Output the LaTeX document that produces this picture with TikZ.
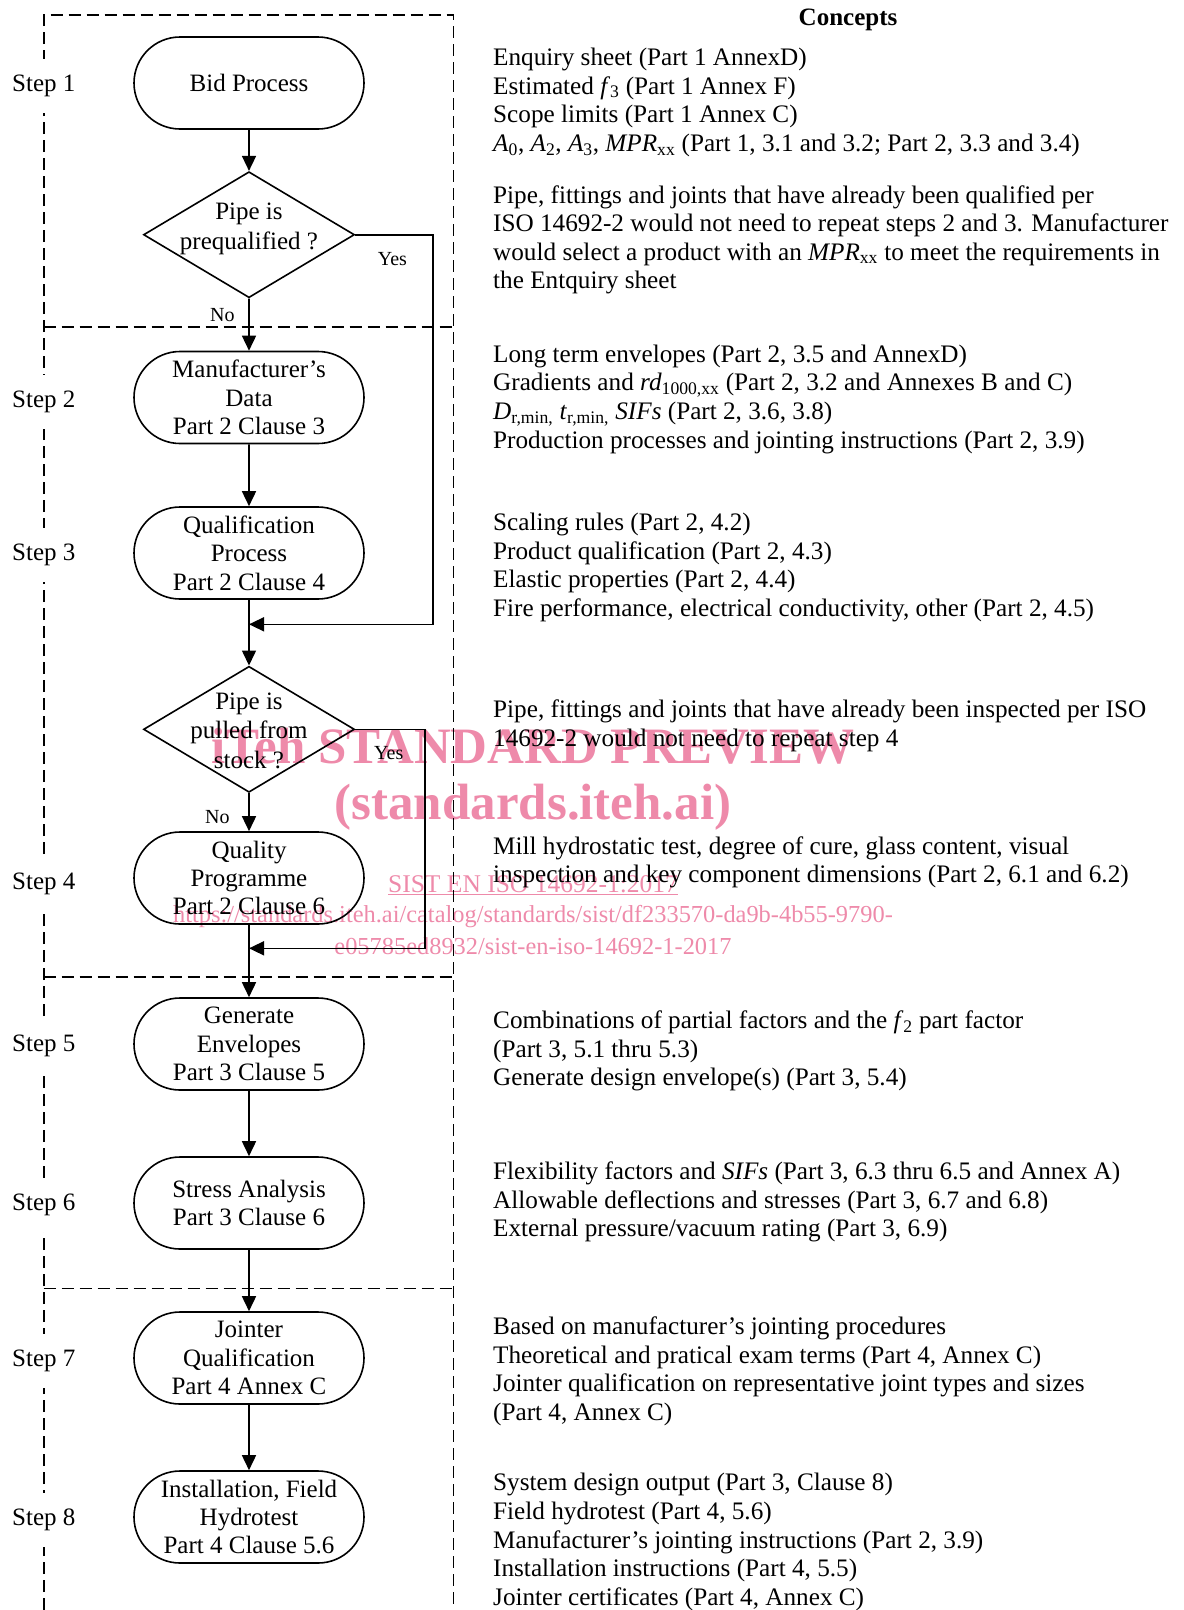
\documentclass[tikz,border=0pt]{standalone}
\usepackage{fontspec}
\setmainfont{Liberation Serif}
\usetikzlibrary{shapes.misc,shapes.geometric,arrows.meta}
\definecolor{wmpink}{RGB}{238,138,170}
\newcommand\ctxt[3]{\node[ctx] (#1) at (493,#2) {#3};}
\newcommand\sub[1]{\textsubscript{#1}}
\begin{document}
\begin{tikzpicture}[x=1pt,y=-1pt,
  proc/.style={rounded rectangle, draw, line width=1.6pt, minimum width=230pt, minimum height=92pt, inner sep=0pt, align=center, font=\fontsize{25}{28.4}\selectfont},
  dec/.style={diamond, draw, line width=1.6pt, minimum width=211pt, minimum height=126pt, inner sep=0pt},
  dtxt/.style={inner sep=0pt, align=center, font=\fontsize{25}{29.3}\selectfont},
  arr/.style={line width=1.6pt, -{Triangle[length=15pt,width=14pt]}},
  frame/.style={line width=1.6pt, dash pattern=on 12pt off 6pt},
  stepl/.style={anchor=base west, fill=white, minimum height=54pt, inner xsep=2pt, inner ysep=0pt, font=\fontsize{25}{28}\selectfont},
  lbl/.style={anchor=base west, inner sep=0pt, font=\fontsize{20}{24}\selectfont},
  ctx/.style={anchor=base west, inner sep=0pt, font=\fontsize{25.2}{28.6}\selectfont},
  wmb/.style={anchor=base, inner sep=0pt, text=wmpink, font=\fontsize{51}{56}\selectfont\bfseries},
  wmr/.style={anchor=base, inner sep=0pt, text=wmpink, font=\fontsize{25.5}{30}\selectfont},
  wmu/.style={anchor=base, inner sep=0pt, text=wmpink, font=\fontsize{24.4}{30}\selectfont}]
\useasboundingbox (0,0) rectangle (1184,1610);
% watermark
\node[wmb] (wm1) at (533,763) {iTeh STANDARD PREVIEW};
\node[wmb] (wm2) at (533,819) {(standards.iteh.ai)};
\node[wmr] (wm3) at (533,892) {\underline{SIST EN ISO 14692-1:2017}};
\node[wmu] (wm4) at (533,922) {https://standards.iteh.ai/catalog/standards/sist/df233570-da9b-4b55-9790-};
\node[wmu] (wm5) at (533,954) {e05785ed8932/sist-en-iso-14692-1-2017};
% dashed frame
\coordinate (fTL) at (43.7,15);
\coordinate (fTR) at (453.3,15);
\coordinate (fBL) at (43.7,1610);
\coordinate (fBR) at (453.3,1610);
\draw[frame] (fBL) -- (fTL) -- (fTR) -- (fBR);
\coordinate (h1a) at (43.7,326.7); \coordinate (h1b) at (453.3,326.7);
\coordinate (h2a) at (43.7,976.7); \coordinate (h2b) at (453.3,976.7);
\coordinate (h3a) at (43.7,1288.3); \coordinate (h3b) at (453.3,1288.3);
\draw[frame] (h1a) -- (h1b);
\draw[frame] (h2a) -- (h2b);
\draw[frame] (h3a) -- (h3b);
% step labels
\node[stepl] (s1) at (10,91.7) {Step 1};
\node[stepl] (s2) at (10,407.3) {Step 2};
\node[stepl] (s3) at (10,560.7) {Step 3};
\node[stepl] (s4) at (10,889.3) {Step 4};
\node[stepl] (s5) at (10,1051.7) {Step 5};
\node[stepl] (s6) at (10,1210.7) {Step 6};
\node[stepl] (s7) at (10,1366.7) {Step 7};
\node[stepl] (s8) at (10,1525.7) {Step 8};
% flow
\node[proc] (bid) at (249,83) {Bid Process};
\node[dec] (d1) at (249,234.7) {};
\node[dtxt] (d1t) at (249,228.9) {Pipe is\\prequalified ?};
\node[proc] (mfr) at (249,397.5) {Manufacturer’s\\Data\\Part 2 Clause 3};
\node[proc] (qual) at (249,553) {Qualification\\Process\\Part 2 Clause 4};
\coordinate (j1) at (249,624.3);
\coordinate (r1) at (432.7,624.3);
\node[dec] (d2) at (249,729.3) {};
\node[dtxt] (d2t) at (249,730.7) {Pipe is\\pulled from\\stock ?};
\node[proc] (qp) at (249,878) {Quality\\Programme\\Part 2 Clause 6};
\coordinate (j2) at (249,948.3);
\coordinate (r2) at (425,948.3);
\node[proc] (gen) at (249,1044) {Generate\\Envelopes\\Part 3 Clause 5};
\node[proc] (sa) at (249,1203) {Stress Analysis\\Part 3 Clause 6};
\node[proc] (jq) at (249,1358) {Jointer\\Qualification\\Part 4 Annex C};
\node[proc] (inst) at (249,1517) {Installation, Field\\Hydrotest\\Part 4 Clause 5.6};
\draw[arr] (bid) -- (d1);
\draw[arr] (d1) -- (mfr);
\draw[arr] (mfr) -- (qual);
\draw[arr] (qual) -- (d2);
\draw[arr] (d1.east) -| (r1) -- (j1);
\draw[arr] (d2) -- (qp);
\draw[arr] (qp) -- (gen);
\draw[arr] (d2.east) -| (r2) -- (j2);
\draw[arr] (gen) -- (sa);
\draw[arr] (sa) -- (jq);
\draw[arr] (jq) -- (inst);
\node[lbl] (y1) at (377.7,265.7) {Yes};
\node[lbl] (n1) at (210,321.7) {No};
\node[lbl] (y2) at (374,759.3) {Yes};
\node[lbl] (n2) at (205,823.3) {No};
% concepts
\node[anchor=base, inner sep=0pt, font=\fontsize{25}{28}\selectfont\bfseries] (cc) at (848,25.5) {Concepts};
\ctxt{a1}{65.5}{Enquiry sheet (Part 1 AnnexD)}
\ctxt{a2}{94.1}{Estimated \textit{f}\sub{3} (Part 1 Annex F)}
\ctxt{a3}{122.7}{Scope limits (Part 1 Annex C)}
\ctxt{a4}{151.3}{\textit{A}\sub{0}, \textit{A}\sub{2}, \textit{A}\sub{3}, \textit{MPR}\sub{xx} (Part 1, 3.1 and 3.2; Part 2, 3.3 and 3.4)}
\ctxt{b1}{203}{Pipe, fittings and joints that have already been qualified per}
\ctxt{b2}{231.6}{ISO 14692-2 would not need to repeat steps 2 and 3. Manufacturer}
\ctxt{b3}{260.2}{would select a product with an \textit{MPR}\sub{xx} to meet the requirements in}
\ctxt{b4}{288.8}{the Entquiry sheet}
\ctxt{c1}{362.3}{Long term envelopes (Part 2, 3.5 and AnnexD)}
\ctxt{c2}{390.9}{Gradients and \textit{rd}\sub{1000,xx} (Part 2, 3.2 and Annexes B and C)}
\ctxt{c3}{419.5}{\textit{D}\sub{r,min,} \textit{t}\sub{r,min,} \textit{SIFs} (Part 2, 3.6, 3.8)}
\ctxt{c4}{448.1}{Production processes and jointing instructions (Part 2, 3.9)}
\ctxt{e1}{530.7}{Scaling rules (Part 2, 4.2)}
\ctxt{e2}{559.3}{Product qualification (Part 2, 4.3)}
\ctxt{e3}{587.9}{Elastic properties (Part 2, 4.4)}
\ctxt{e4}{616.5}{Fire performance, electrical conductivity, other (Part 2, 4.5)}
\ctxt{g1}{717.6}{Pipe, fittings and joints that have already been inspected per ISO}
\ctxt{g2}{746.2}{14692-2 would not need to repeat step 4}
\ctxt{k1}{854.1}{Mill hydrostatic test, degree of cure, glass content, visual}
\ctxt{k2}{882.7}{inspection and key component dimensions (Part 2, 6.1 and 6.2)}
\ctxt{m1}{1028.7}{Combinations of partial factors and the \textit{f}\sub{2} part factor}
\ctxt{m2}{1057.3}{(Part 3, 5.1 thru 5.3)}
\ctxt{m3}{1085.9}{Generate design envelope(s) (Part 3, 5.4)}
\ctxt{p1}{1179.7}{Flexibility factors and \textit{SIFs} (Part 3, 6.3 thru 6.5 and Annex A)}
\ctxt{p2}{1208.3}{Allowable deflections and stresses (Part 3, 6.7 and 6.8)}
\ctxt{p3}{1236.9}{External pressure/vacuum rating (Part 3, 6.9)}
\ctxt{q1}{1334.7}{Based on manufacturer’s jointing procedures}
\ctxt{q2}{1363.3}{Theoretical and pratical exam terms (Part 4, Annex C)}
\ctxt{q3}{1391.9}{Jointer qualification on representative joint types and sizes}
\ctxt{q4}{1420.5}{(Part 4, Annex C)}
\ctxt{u1}{1490.8}{System design output (Part 3, Clause 8)}
\ctxt{u2}{1519.4}{Field hydrotest (Part 4, 5.6)}
\ctxt{u3}{1548}{Manufacturer’s jointing instructions (Part 2, 3.9)}
\ctxt{u4}{1576.6}{Installation instructions (Part 4, 5.5)}
\ctxt{u5}{1605.2}{Jointer certificates (Part 4, Annex C)}
\end{tikzpicture}
\end{document}
